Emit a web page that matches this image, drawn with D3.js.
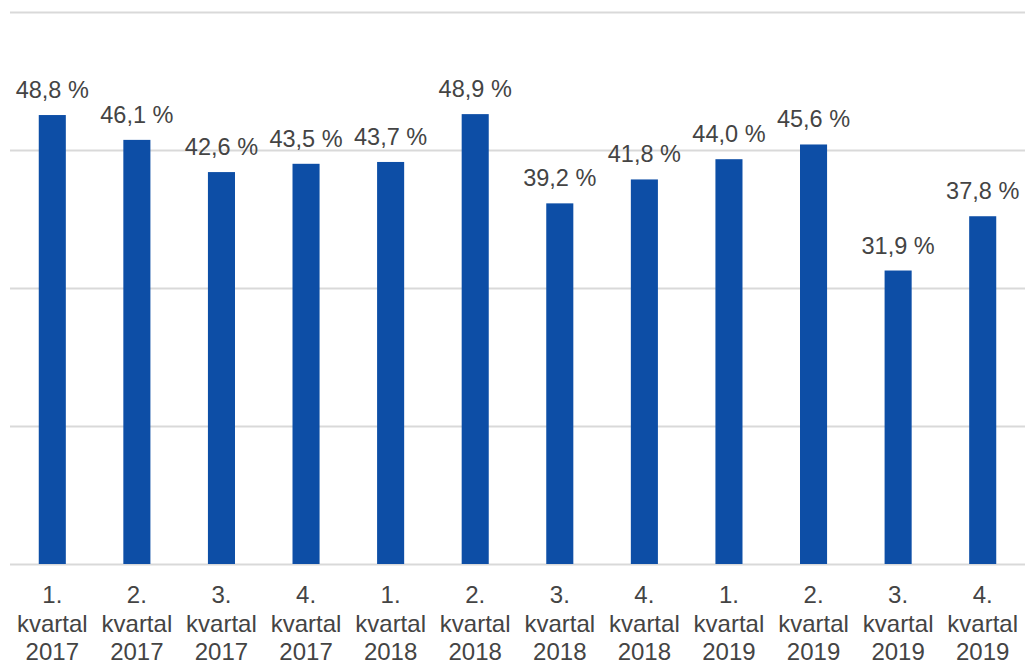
<!DOCTYPE html>
<html>
<head>
<meta charset="utf-8">
<script src="https://cdn.jsdelivr.net/npm/d3@7"></script>
<style>
  body { margin: 0; background: #fff; }
  svg text { font-family: "Liberation Sans", Arial, sans-serif; fill: #444444; }
</style>
</head>
<body>
<script>
const WIDTH_PX = 1025;
const HEIGHT_PX = 664;

const quarters = ['1.', '2.', '3.', '4.', '1.', '2.', '3.', '4.', '1.', '2.', '3.', '4.'];
const years = ['2017', '2017', '2017', '2017', '2018', '2018', '2018', '2018', '2019', '2019', '2019', '2019'];
const shares = [48.8, 46.1, 42.6, 43.5, 43.7, 48.9, 39.2, 41.8, 44.0, 45.6, 31.9, 37.8];
const gridValues = [0, 15, 30, 45, 60];

let svg = d3.select('body').append('svg')
    .attr('width', WIDTH_PX)
    .attr('height', HEIGHT_PX);

let categories = shares.map(function(d, i) { return i; });

let xScale = d3.scaleBand()
    .domain(categories)
    .range([10, 1025])
    .paddingInner(0.68)
    .paddingOuter(0.34);

let yScale = d3.scaleLinear()
    .domain([0, 60])
    .range([564, 12]);

// gridlines
svg.append('g')
    .selectAll('line')
    .data(gridValues)
    .join('line')
    .attr('x1', 10)
    .attr('x2', 1025)
    .attr('y1', function(v) { return yScale(v) + 0.5; })
    .attr('y2', function(v) { return yScale(v) + 0.5; })
    .attr('stroke', '#d9d9d9')
    .attr('stroke-width', 2);

svg.append('g')
    .selectAll('rect')
    .data(shares)
    .join('rect')
    .attr('x', function(d, i) { return xScale(i); })
    .attr('y', function(d) { return yScale(d); })
    .attr('width', xScale.bandwidth())
    .attr('height', function(d) { return yScale(0) - yScale(d); })
    .attr('fill', '#0d4ea6');

svg.append('g')
    .selectAll('text')
    .data(shares)
    .join('text')
    .attr('x', function(d, i) { return xScale(i) + xScale.bandwidth() / 2; })
    .attr('y', function(d) { return yScale(d) - 17; })
    .attr('text-anchor', 'middle')
    .style('font-size', '23.5px')
    .text(function(d) { return d.toFixed(1).replace('.', ',') + ' %'; });

// category labels, three lines each
let labels = svg.append('g')
    .selectAll('text')
    .data(categories)
    .join('text')
    .attr('text-anchor', 'middle')
    .style('font-size', '24px');

labels.each(function(i) {
  let cx = xScale(i) + xScale.bandwidth() / 2;
  let lines = [quarters[i], 'kvartal', years[i]];
  d3.select(this).selectAll('tspan')
      .data(lines)
      .join('tspan')
      .attr('x', cx)
      .attr('y', function(l, k) { return 603 + k * 28.5; })
      .text(function(l) { return l; });
});
</script>
</body>
</html>
